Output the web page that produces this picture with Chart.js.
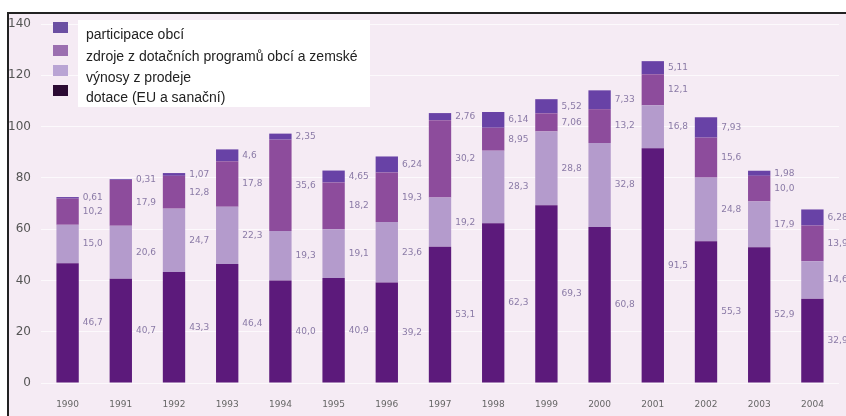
<!DOCTYPE html>
<html><head><meta charset="utf-8">
<script src="https://cdn.jsdelivr.net/npm/chart.js@4"></script>
<style>
html,body{margin:0;padding:0;background:#fff;}
#wrap{position:relative;width:846px;height:416px;overflow:hidden;}
#bg{position:absolute;left:7px;top:12px;right:0;bottom:0;background:#f5ebf4;border-top:2px solid #222;border-left:2px solid #222;}
canvas{position:absolute;left:0;top:0;}
#legbox{position:absolute;left:78px;top:20px;width:292px;height:87px;background:#fff;}
.sw{position:absolute;left:53px;width:15px;height:11px;}
.lt{position:absolute;left:86px;font-family:"Liberation Sans",Arial,sans-serif;font-size:14px;color:#222;line-height:16px;white-space:nowrap;}
</style></head>
<body><div id="wrap"><div id="bg"></div><canvas id="c" width="846" height="416"></canvas>
<div id="legbox"></div><div id="legend"></div></div>
<script>
const years = ["1990","1991","1992","1993","1994","1995","1996","1997","1998","1999","2000","2001","2002","2003","2004"];
const dotace = [46.7, 40.7, 43.3, 46.4, 40.0, 40.9, 39.2, 53.1, 62.3, 69.3, 60.8, 91.5, 55.3, 52.9, 32.9];
const vynosy = [15.0, 20.6, 24.7, 22.3, 19.3, 19.1, 23.6, 19.2, 28.3, 28.8, 32.8, 16.8, 24.8, 17.9, 14.6];
const zdroje = [10.2, 17.9, 12.8, 17.8, 35.6, 18.2, 19.3, 30.2, 8.95, 7.06, 13.2, 12.1, 15.6, 10.0, 13.9];
const participace = [0.61, 0.31, 1.07, 4.6, 2.35, 4.65, 6.24, 2.76, 6.14, 5.52, 7.33, 5.11, 7.93, 1.98, 6.28];
const yTicks = [0, 20, 40, 60, 80, 100, 120, 140];
const seriesNames = ["participace obcí", "zdroje z dotačních programů obcí a zemské", "výnosy z prodeje", "dotace (EU a sanační)"];

const legendColors = ["#6b4fa2", "#9b6fb0", "#b9a4d4", "#2b0a33"];
const legTops = [22, 45, 65, 85];
const legTextTops = [26, 48, 69, 89];
const leg = document.getElementById('legend');
seriesNames.forEach((n,i)=>{
  const s=document.createElement('div');s.className='sw';s.style.top=legTops[i]+'px';s.style.background=legendColors[i];leg.appendChild(s);
  const t=document.createElement('div');t.className='lt';t.style.top=legTextTops[i]+'px';t.textContent=n;leg.appendChild(t);
});

function fmt(v){ return (Number.isInteger(v) ? v.toFixed(1) : String(v)).replace('.', ','); }

const labelPlugin = {
  id:'segLabels',
  afterDatasetsDraw(chart){
    const ctx=chart.ctx;
    ctx.save();
    ctx.font='9px "DejaVu Sans", sans-serif';
    ctx.fillStyle='#8a7aa6';
    ctx.textAlign='left';ctx.textBaseline='middle';
    chart.data.datasets.forEach((ds,di)=>{
      const meta=chart.getDatasetMeta(di);
      meta.data.forEach((el,i)=>{
        const p=el.getProps(['x','y','base','width'],true);
        const yc=(p.y+p.base)/2;
        ctx.fillText(fmt(ds.data[i]), p.x+p.width/2+4, yc);
      });
    });
    ctx.restore();
  }
};

new Chart(document.getElementById('c'),{
  type:'bar',
  data:{labels:years,datasets:[
    {label:seriesNames[3],data:dotace,backgroundColor:'#5c1a7b'},
    {label:seriesNames[2],data:vynosy,backgroundColor:'#b49bcc'},
    {label:seriesNames[1],data:zdroje,backgroundColor:'#8d4c9c'},
    {label:seriesNames[0],data:participace,backgroundColor:'#6842a6'}
  ]},
  options:{
    responsive:false,animation:false,
    layout:{padding:{top:24,right:7,left:0,bottom:0}},
    datasets:{bar:{barPercentage:0.6,categoryPercentage:0.7}},
    plugins:{legend:{display:false},tooltip:{enabled:false}},
    scales:{
      x:{stacked:true,grid:{display:false,drawTicks:false},border:{display:false},
        ticks:{padding:16,color:'#666',font:{family:'"DejaVu Sans", sans-serif',size:9}},
        afterFit(s){s.height=33;}},
      y:{stacked:true,min:0,max:140,
        grid:{color:'rgba(255,255,255,0.7)',drawTicks:false},border:{display:false},
        afterBuildTicks(s){s.ticks=yTicks.map(v=>({value:v}));},
        ticks:{padding:10,color:'#555',font:{family:'"DejaVu Sans", sans-serif',size:12}},
        afterFit(s){s.width=41;}}
    }
  },
  plugins:[labelPlugin]
});
</script></body></html>
